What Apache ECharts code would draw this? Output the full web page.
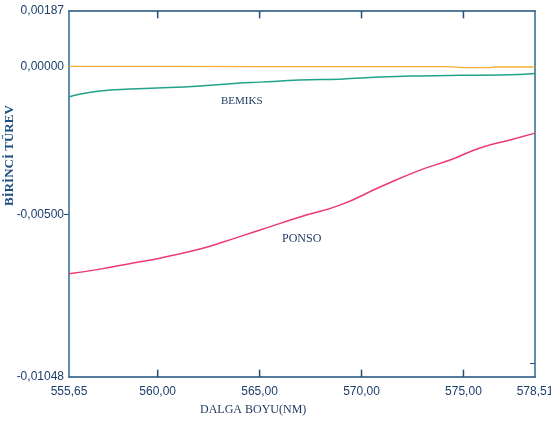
<!DOCTYPE html>
<html><head><meta charset="utf-8">
<script src="https://cdn.jsdelivr.net/npm/echarts@6/dist/echarts.min.js"></script>
<style>html,body{margin:0;padding:0;background:#fff}#c{width:551px;height:430px}</style>
</head><body><div id="c"></div>
<script>
// Wavelength (nm) and first-derivative values
var xTicks = [555.65, 560, 565, 570, 575, 578.51];
var xMinorTicks = [560, 565, 570, 575];
var yTicks = [-0.01048, -0.005, 0, 0.00187];
var yMin = -0.01048, yMax = 0.00187;

var ponsoX = [555.65, 557.17, 558.79, 560.11, 562.08, 563.06, 565.02, 566.98, 568.94, 570.91, 572.87, 574.34, 575.81, 577.28, 578.51];
var ponsoY = [-0.00700, -0.00684, -0.00663, -0.00647, -0.00616, -0.00596, -0.00552, -0.00508, -0.00468, -0.00407, -0.00350, -0.00316, -0.00275, -0.00248, -0.00225];

var bemiksX = [555.65, 555.94, 557.17, 558.64, 559.97, 562.08, 564.04, 565.02, 566.98, 568.94, 570.91, 572.87, 574.83, 576.79, 577.77, 578.51];
var bemiksY = [-0.00103, -0.00097, -0.00083, -0.00076, -0.00073, -0.00066, -0.00056, -0.00053, -0.00046, -0.00043, -0.00036, -0.00032, -0.00030, -0.00029, -0.00027, -0.00024];

var baseX = [555.65, 560, 565, 570, 574.2, 575.0, 576.3, 576.5, 578.51];
var baseY = [0.00000, 0.00000, -0.00001, -0.00001, -0.00001, -0.00004, -0.00004, -0.00002, -0.00002];

function zip(a, b) { return a.map(function (v, i) { return [v, b[i]]; }); }
function fmt(d) { return function (v) { return v.toFixed(d).replace('.', ','); }; }

var axisCol = '#1f4f7a';
var labCol = '#1d3f6c';
var tickLen = (yMax - yMin) * 0.02;

var tickSeries = [];
xMinorTicks.forEach(function (v) {
  tickSeries.push({ type: 'line', xAxisIndex: 0, yAxisIndex: 0, silent: true, showSymbol: false, clip: false, z: 10,
    lineStyle: { color: axisCol, width: 1.5 }, data: [[v, yMin], [v, yMin + tickLen]] });
  tickSeries.push({ type: 'line', xAxisIndex: 0, yAxisIndex: 0, silent: true, showSymbol: false, clip: false, z: 10,
    lineStyle: { color: axisCol, width: 1.5 }, data: [[v, yMax], [v, yMax - tickLen]] });
});

var chart = echarts.init(document.getElementById('c'));
chart.setOption({
  animation: false,
  backgroundColor: '#ffffff',
  grid: { left: 69, right: 16, top: 11, bottom: 53, containLabel: false, outerBoundsMode: 'none' },
  xAxis: [{
    type: 'value', min: 555.65, max: 578.51,
    axisLine: { onZero: false, lineStyle: { color: axisCol, width: 1.5 } },
    axisTick: { show: false },
    axisLabel: { customValues: xTicks, formatter: fmt(2), color: labCol, fontFamily: 'Liberation Sans, Arial', fontSize: 12, margin: 9, showMinLabel: true, showMaxLabel: true },
    splitLine: { show: false }
  }, {
    type: 'value', position: 'top', min: 555.65, max: 578.51,
    axisLine: { show: true, onZero: false, lineStyle: { color: axisCol, width: 1.5 } },
    axisTick: { show: false },
    axisLabel: { show: false }, splitLine: { show: false }
  }],
  yAxis: [{
    type: 'value', min: yMin, max: yMax,
    axisLine: { show: true, onZero: false, lineStyle: { color: '#2a6a92', width: 1.5 } },
    axisTick: { show: true, inside: false, length: 5, customValues: [-0.005], lineStyle: { color: axisCol } },
    axisLabel: { customValues: yTicks, formatter: fmt(5), color: labCol, fontFamily: 'Liberation Sans, Arial', fontSize: 12, margin: 5, showMinLabel: true, showMaxLabel: true },
    splitLine: { show: false }
  }, {
    type: 'value', position: 'right', min: yMin, max: yMax,
    axisLine: { show: true, onZero: false, lineStyle: { color: '#2a6a92', width: 1.5 } },
    axisTick: { show: true, inside: true, length: 5, customValues: [-0.01], lineStyle: { color: axisCol } },
    axisLabel: { show: false }, splitLine: { show: false }
  }],
  series: [
    { type: 'line', name: 'base', data: zip(baseX, baseY), showSymbol: false, lineStyle: { color: '#f4ae35', width: 1.3 }, z: 3 },
    { type: 'line', name: 'BEMIKS', data: zip(bemiksX, bemiksY), smooth: true, showSymbol: false, lineStyle: { color: '#22a288', width: 1.5 } },
    { type: 'line', name: 'PONSO', data: zip(ponsoX, ponsoY), smooth: true, showSymbol: false, lineStyle: { color: '#ea3a6e', width: 1.5 } }
  ].concat(tickSeries),
  graphic: [
    { type: 'text', left: 221, top: 96, style: { text: 'BEMIKS', fill: '#1d355e', font: '11px "Liberation Serif", serif' } },
    { type: 'text', left: 282, top: 233, style: { text: 'PONSO', fill: '#1d355e', font: '12px "Liberation Serif", serif' } },
    { type: 'text', x: 10, y: 206, rotation: Math.PI / 2, style: { text: 'BİRİNCİ TÜREV', fill: '#1d4f80', font: 'bold 13px "Liberation Serif", serif', align: 'left', verticalAlign: 'middle' } },
    { type: 'text', left: 200, top: 404, style: { text: 'DALGA BOYU(NM)', fill: '#1d355e', font: '12px "Liberation Serif", serif' } }
  ]
});
</script></body></html>
